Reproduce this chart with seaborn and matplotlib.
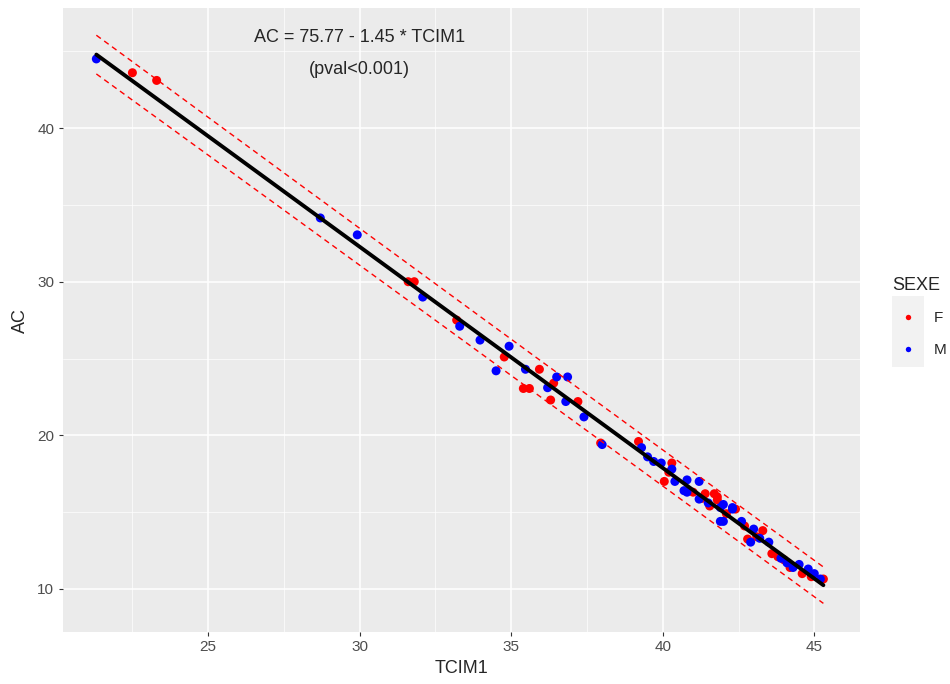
import numpy as np
import pandas as pd
import matplotlib
matplotlib.use("Agg")
import matplotlib.pyplot as plt
from matplotlib.patches import Rectangle
import seaborn as sns

# points
tcim1_f = [22.5, 23.3, 31.6, 31.8, 33.2, 34.77, 35.93, 36.4, 35.4, 35.6, 36.3, 37.2,
           37.95, 39.2, 40.3, 40.05, 41.0, 41.4, 41.7, 41.8, 41.55, 42.4, 41.8,
           43.3, 42.8, 43.6, 44.2, 44.6, 45.3, 43.8, 40.2, 41.3, 42.1, 42.7, 43.1,
           44.0, 44.9]
ac_f = [43.6, 43.1, 30.0, 30.0, 27.5, 25.1, 24.3, 23.4, 23.05, 23.05, 22.3, 22.2,
        19.5, 19.6, 18.2, 17.0, 16.3, 16.2, 16.2, 15.8, 15.4, 15.2, 16.0,
        13.8, 13.25, 12.3, 11.4, 11.0, 10.65, 12.1, 17.6, 15.9, 14.9, 14.1, 13.4,
        11.9, 10.8]

tcim1_m = [21.31, 28.7, 29.92, 32.08, 33.3, 33.97, 34.93, 34.5, 35.47, 36.5, 36.86,
           36.2, 36.8, 37.4, 38.0, 39.3, 39.5, 39.7, 39.95, 40.3, 40.4, 40.8, 41.2,
           40.7, 40.8, 41.2, 41.9, 42.3, 41.9, 42.0, 42.3, 42.0, 42.6, 43.0, 42.9,
           43.5, 43.9, 44.3, 44.5, 44.8, 45.0, 45.2, 41.5, 43.2, 44.1]
ac_m = [44.5, 34.15, 33.05, 29.0, 27.1, 26.2, 25.8, 24.2, 24.3, 23.8, 23.8,
        23.1, 22.2, 21.2, 19.4, 19.2, 18.6, 18.3, 18.2, 17.8, 17.0, 17.1, 17.0,
        16.4, 16.3, 15.85, 15.3, 15.3, 14.4, 15.5, 15.2, 14.4, 14.4, 13.9, 13.05,
        13.05, 12.0, 11.4, 11.6, 11.3, 11.0, 10.65, 15.6, 13.3, 11.7]

df = pd.DataFrame({
    "TCIM1": tcim1_f + tcim1_m,
    "AC": ac_f + ac_m,
    "SEXE": ["F"] * len(tcim1_f) + ["M"] * len(tcim1_m),
})

# linear fit + prediction interval
x = df["TCIM1"].to_numpy()
y = df["AC"].to_numpy()
n = len(x)
slope, intercept = np.polyfit(x, y, 1)
resid = y - (intercept + slope * x)
s = np.sqrt(np.sum(resid ** 2) / (n - 2))
xs = np.linspace(x.min(), x.max(), 200)
fit = intercept + slope * xs
half = 1.99 * s * np.sqrt(1 + 1 / n + (xs - x.mean()) ** 2 / np.sum((x - x.mean()) ** 2))

sns.set_theme(style="darkgrid", rc={
    "axes.facecolor": "#EBEBEB",
    "grid.color": "white",
    "axes.edgecolor": "#EBEBEB",
})
plt.rcParams["font.family"] = ["Liberation Sans", "DejaVu Sans"]

fig = plt.figure(figsize=(9.5, 6.84), dpi=100)
ax = fig.add_axes([0.066, 0.076, 0.839, 0.912])

sns.scatterplot(data=df, x="TCIM1", y="AC", hue="SEXE", hue_order=["F", "M"],
                palette={"F": "red", "M": "blue"}, s=42, linewidth=0, ax=ax)
ax.plot(xs, fit, color="black", lw=2.8, zorder=3)
ax.plot(xs, fit + half, color="red", lw=1.0, ls=(0, (4, 3)), zorder=4)
ax.plot(xs, fit - half, color="red", lw=1.0, ls=(0, (4, 3)), zorder=4)

ax.set_xlim(20.2, 46.5)
ax.set_ylim(7.2, 47.8)
ax.set_xticks([25, 30, 35, 40, 45])
ax.set_yticks([10, 20, 30, 40])
ax.set_xticks([22.5, 27.5, 32.5, 37.5, 42.5], minor=True)
ax.set_yticks([15, 25, 35, 45], minor=True)
ax.grid(which="major", color="white", lw=1.1)
ax.grid(which="minor", color="white", lw=0.5)
ax.tick_params(axis="both", which="major", length=3, width=0.8, color="#333333",
               labelsize=11, labelcolor="#4D4D4D", bottom=True, left=True, pad=3)
ax.tick_params(which="minor", length=0)
for sp in ax.spines.values():
    sp.set_visible(False)
ax.set_xlabel("TCIM1", fontsize=13, labelpad=4)
ax.set_ylabel("AC", fontsize=13, labelpad=6)

ax.text(30.0, 45.9, "AC = 75.77 - 1.45 * TCIM1", ha="center", va="center", fontsize=13)
ax.text(30.0, 43.8, "(pval<0.001)", ha="center", va="center", fontsize=13)

# grey key background like ggplot, behind the legend
key_bg = Rectangle((0.939, 0.463), 0.034, 0.104, transform=fig.transFigure,
                   facecolor="#F2F2F2", edgecolor="none", zorder=-1)
fig.add_artist(key_bg)

handles, labels = ax.get_legend_handles_labels()
ax.legend(handles, labels, title="SEXE", loc="center left", bbox_to_anchor=(1.024, 0.505),
          frameon=False, fontsize=11, title_fontsize=13, markerscale=0.6,
          handletextpad=0.7, labelspacing=1.15, alignment="left")

fig.savefig("out.png", dpi=100)
